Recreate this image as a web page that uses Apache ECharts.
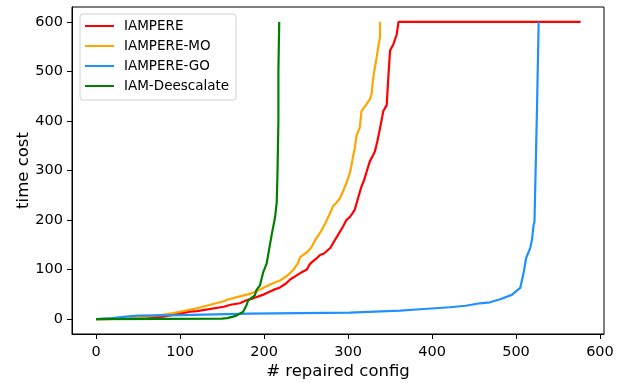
<!DOCTYPE html>
<html>
<head>
<meta charset="utf-8">
<script src="https://cdn.jsdelivr.net/npm/echarts@6/dist/echarts.min.js"></script>
<style>
  html, body { margin: 0; padding: 0; background: #fff; }
  #chart { width: 637px; height: 383px; }
</style>
</head>
<body>
<div id="chart"></div>
<script>
// [# repaired config, time cost]
const iampere = [
  [0, 0], [40, 1], [80, 5], [112, 15], [120, 16], [152, 25], [160, 29], [171, 32],
  [179, 38], [187, 42], [200, 50], [211, 59], [219, 64], [226, 72], [231, 80], [243, 93],
  [251, 100], [254, 110], [257, 115], [262, 122], [267, 130], [271, 132], [279, 144],
  [283, 156], [287, 167], [294, 187], [298, 200], [302, 206], [305, 213], [308, 221],
  [312, 245], [316, 268], [319, 280], [322, 297], [326, 319], [329, 328], [332, 339],
  [335, 360], [338, 385], [342, 420], [346, 432], [348, 490], [350, 542], [354, 555],
  [358, 575], [360, 600], [577, 600]
];
const iampereMO = [
  [0, 0], [40, 1], [80, 9], [92, 12], [120, 22], [152, 36], [156, 39], [171, 46],
  [183, 51], [191, 56], [200, 64], [211, 73], [219, 78], [226, 86], [231, 93], [235, 100],
  [240, 112], [243, 125], [251, 135], [255, 142], [258, 150], [261, 160], [267, 175],
  [273, 194], [276, 205], [279, 215], [282, 228], [286, 235], [290, 243], [294, 258],
  [298, 275], [302, 294], [304, 310], [306, 329], [308, 345], [310, 370], [314, 387],
  [316, 420], [319, 427], [322, 434], [326, 444], [328, 454], [330, 488], [332, 508],
  [334, 528], [336, 550], [338, 569], [338, 600]
];
const iampereGO = [
  [0, 0], [20, 2], [35, 5], [50, 7], [100, 8], [183, 11], [243, 12], [302, 13],
  [362, 17], [386, 20], [421, 24], [440, 27], [457, 32], [469, 34], [481, 40], [495, 49],
  [505, 63], [509, 93], [512, 123], [517, 144], [519, 160], [521, 191], [522, 196],
  [524, 350], [525, 424], [527, 600]
];
const iamDeescalate = [
  [0, 0], [150, 1], [156, 2], [163, 5], [167, 7], [175, 15], [179, 28], [181, 38],
  [189, 48], [191, 59], [195, 68], [199, 95], [203, 112], [204, 115], [209, 170],
  [213, 205], [215, 235], [216, 300], [217, 400], [217, 500], [218, 600]
];
const seriesNames = ['IAMPERE', 'IAMPERE-MO', 'IAMPERE-GO', 'IAM-Deescalate'];
const seriesColors = ['#ff0000', '#ffa500', '#1e90ff', '#008000'];
const xTicks = [0, 100, 200, 300, 400, 500, 600];
const yTicks = [0, 100, 200, 300, 400, 500, 600];

const font = 'DejaVu Sans';
const chart = echarts.init(document.getElementById('chart'), null, { renderer: 'canvas' });
const allData = [iampere, iampereMO, iampereGO, iamDeescalate];

const option = {
  animation: false,
  textStyle: { fontFamily: font },
  grid: {
    left: 72, right: 33, top: 7, bottom: 49,
    outerBoundsMode: 'none',
    show: true, borderColor: '#000', borderWidth: 1
  },
  legend: {
    orient: 'vertical',
    left: 80, top: 14,
    padding: [5, 7, 7, 5],
    icon: 'rect',
    itemWidth: 29, itemHeight: 2, itemGap: 6,
    backgroundColor: '#fff',
    borderColor: '#d0d0d0', borderWidth: 1, borderRadius: 3,
    textStyle: { fontFamily: font, fontSize: 13.5, color: '#000', padding: [0, 0, 0, 5] },
    data: seriesNames
  },
  xAxis: {
    type: 'value',
    min: -28.8, max: 604.8,
    name: '# repaired config',
    nameLocation: 'middle', nameGap: 29,
    nameMoveOverlap: false,
    nameTextStyle: { fontFamily: font, fontSize: 16.5, color: '#000' },
    axisLine: { show: true, onZero: false, lineStyle: { color: '#000' } },
    axisTick: { show: true, length: 5, lineStyle: { color: '#000' }, customValues: xTicks },
    axisLabel: { fontFamily: font, fontSize: 14.5, color: '#000', margin: 11, customValues: xTicks },
    splitLine: { show: false }
  },
  yAxis: {
    type: 'value',
    min: -30, max: 630,
    name: 'time cost',
    nameLocation: 'middle', nameGap: 40,
    nameMoveOverlap: false,
    nameTextStyle: { fontFamily: font, fontSize: 16.5, color: '#000' },
    axisLine: { show: true, onZero: false, lineStyle: { color: '#000' } },
    axisTick: { show: true, length: 5, lineStyle: { color: '#000' }, customValues: yTicks },
    axisLabel: { fontFamily: font, fontSize: 14.5, color: '#000', margin: 9, customValues: yTicks },
    splitLine: { show: false }
  },
  series: seriesNames.map((name, i) => ({
    name: name,
    type: 'line',
    data: allData[i],
    symbol: 'none',
    color: seriesColors[i],
    lineStyle: { width: 2.2, color: seriesColors[i] },
    z: 2 + i
  }))
};
chart.setOption(option);
</script>
</body>
</html>
